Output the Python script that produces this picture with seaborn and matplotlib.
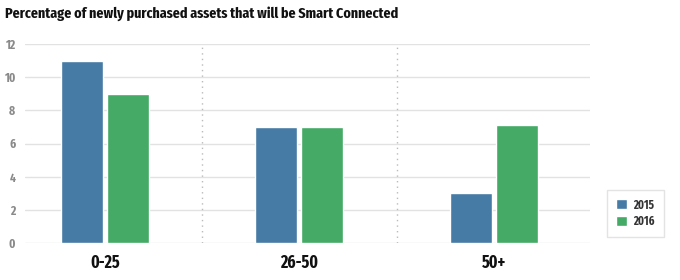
import matplotlib
matplotlib.use("Agg")
import matplotlib.pyplot as plt
import seaborn as sns
import pandas as pd
from matplotlib import font_manager

categories = ["0-25", "26-50", "50+"]
years = ["2015", "2016"]
values_2015 = [11, 7, 3]
values_2016 = [9, 7, 7.1]
yticks = [0, 2, 4, 6, 8, 10, 12]
title = "Percentage of newly purchased assets that will be Smart Connected"

df = pd.DataFrame({
    "category": categories * 2,
    "year": [years[0]] * 3 + [years[1]] * 3,
    "value": values_2015 + values_2016,
})

sns.set_theme(style="white")
names = {f.name for f in font_manager.fontManager.ttflist}
cond = "DejaVu Sans"
for cand in ["Fira Sans Extra Condensed", "Barlow Condensed", "Roboto Condensed"]:
    if cand in names:
        cond = cand
        break
plt.rcParams["font.family"] = [cond, "DejaVu Sans"]

fig = plt.figure(figsize=(6.8, 2.8), dpi=100)
ax = fig.add_axes([25/680, 1 - 243/280, (590 - 25)/680, (243 - 44)/280])

palette = {"2015": "#457ba5", "2016": "#44aa66"}
sns.barplot(data=df, x="category", y="value", hue="year", palette=palette,
            width=0.473, gap=0.087, ax=ax, saturation=1, legend=True)

ax.set_ylim(0, 12)
ax.set_xlim(-0.41, 2.494)
ax.set_yticks(yticks)
ax.set_yticklabels([str(t) for t in yticks], color="#8a8a8a", fontsize=9,
                   fontweight="bold")
ax.tick_params(axis="y", length=0, pad=7)
ax.tick_params(axis="x", length=0, pad=8)
for lbl in ax.get_xticklabels():
    lbl.set_fontsize(16)
    lbl.set_fontweight("bold")
    lbl.set_color("#111111")
ax.set_xlabel("")
ax.set_ylabel("")
for t in yticks:
    ax.axhline(t, color="#e2e2e2", lw=1, zorder=0)
for x in [0.5, 1.5]:
    ax.axvline(x, color="#bbbbbb", lw=1, ls=(0, (1, 3)), zorder=0)
for s in ax.spines.values():
    s.set_visible(False)

leg = ax.legend(loc="lower left", bbox_to_anchor=(601/680, 1 - 243/280),
                bbox_transform=fig.transFigure, frameon=True, fontsize=9,
                handlelength=0.9, handleheight=0.9, borderpad=0.7,
                labelspacing=0.35, fancybox=False, handletextpad=0.5)
leg.get_frame().set_edgecolor("#dddddd")
leg.get_frame().set_linewidth(1)
for t in leg.get_texts():
    t.set_fontweight("bold")
    t.set_color("#333333")

ttl = fig.text(5/680, 1 - 18/280, title, fontsize=13, fontweight="bold",
               color="#111111", va="baseline", ha="left")

# fit text sizes to the reference widths
fig.canvas.draw()
r = fig.canvas.get_renderer()
w = ttl.get_window_extent(r).width
ttl.set_fontsize(13 * 395 / w)
xl = ax.get_xticklabels()
w0 = xl[0].get_window_extent(r).width
for lbl in xl:
    lbl.set_fontsize(16 * 30 / w0)
lt = leg.get_texts()
wl = lt[0].get_window_extent(r).width
for t in lt:
    t.set_fontsize(9 * 21 / wl)

fig.savefig("out.png", dpi=100)
